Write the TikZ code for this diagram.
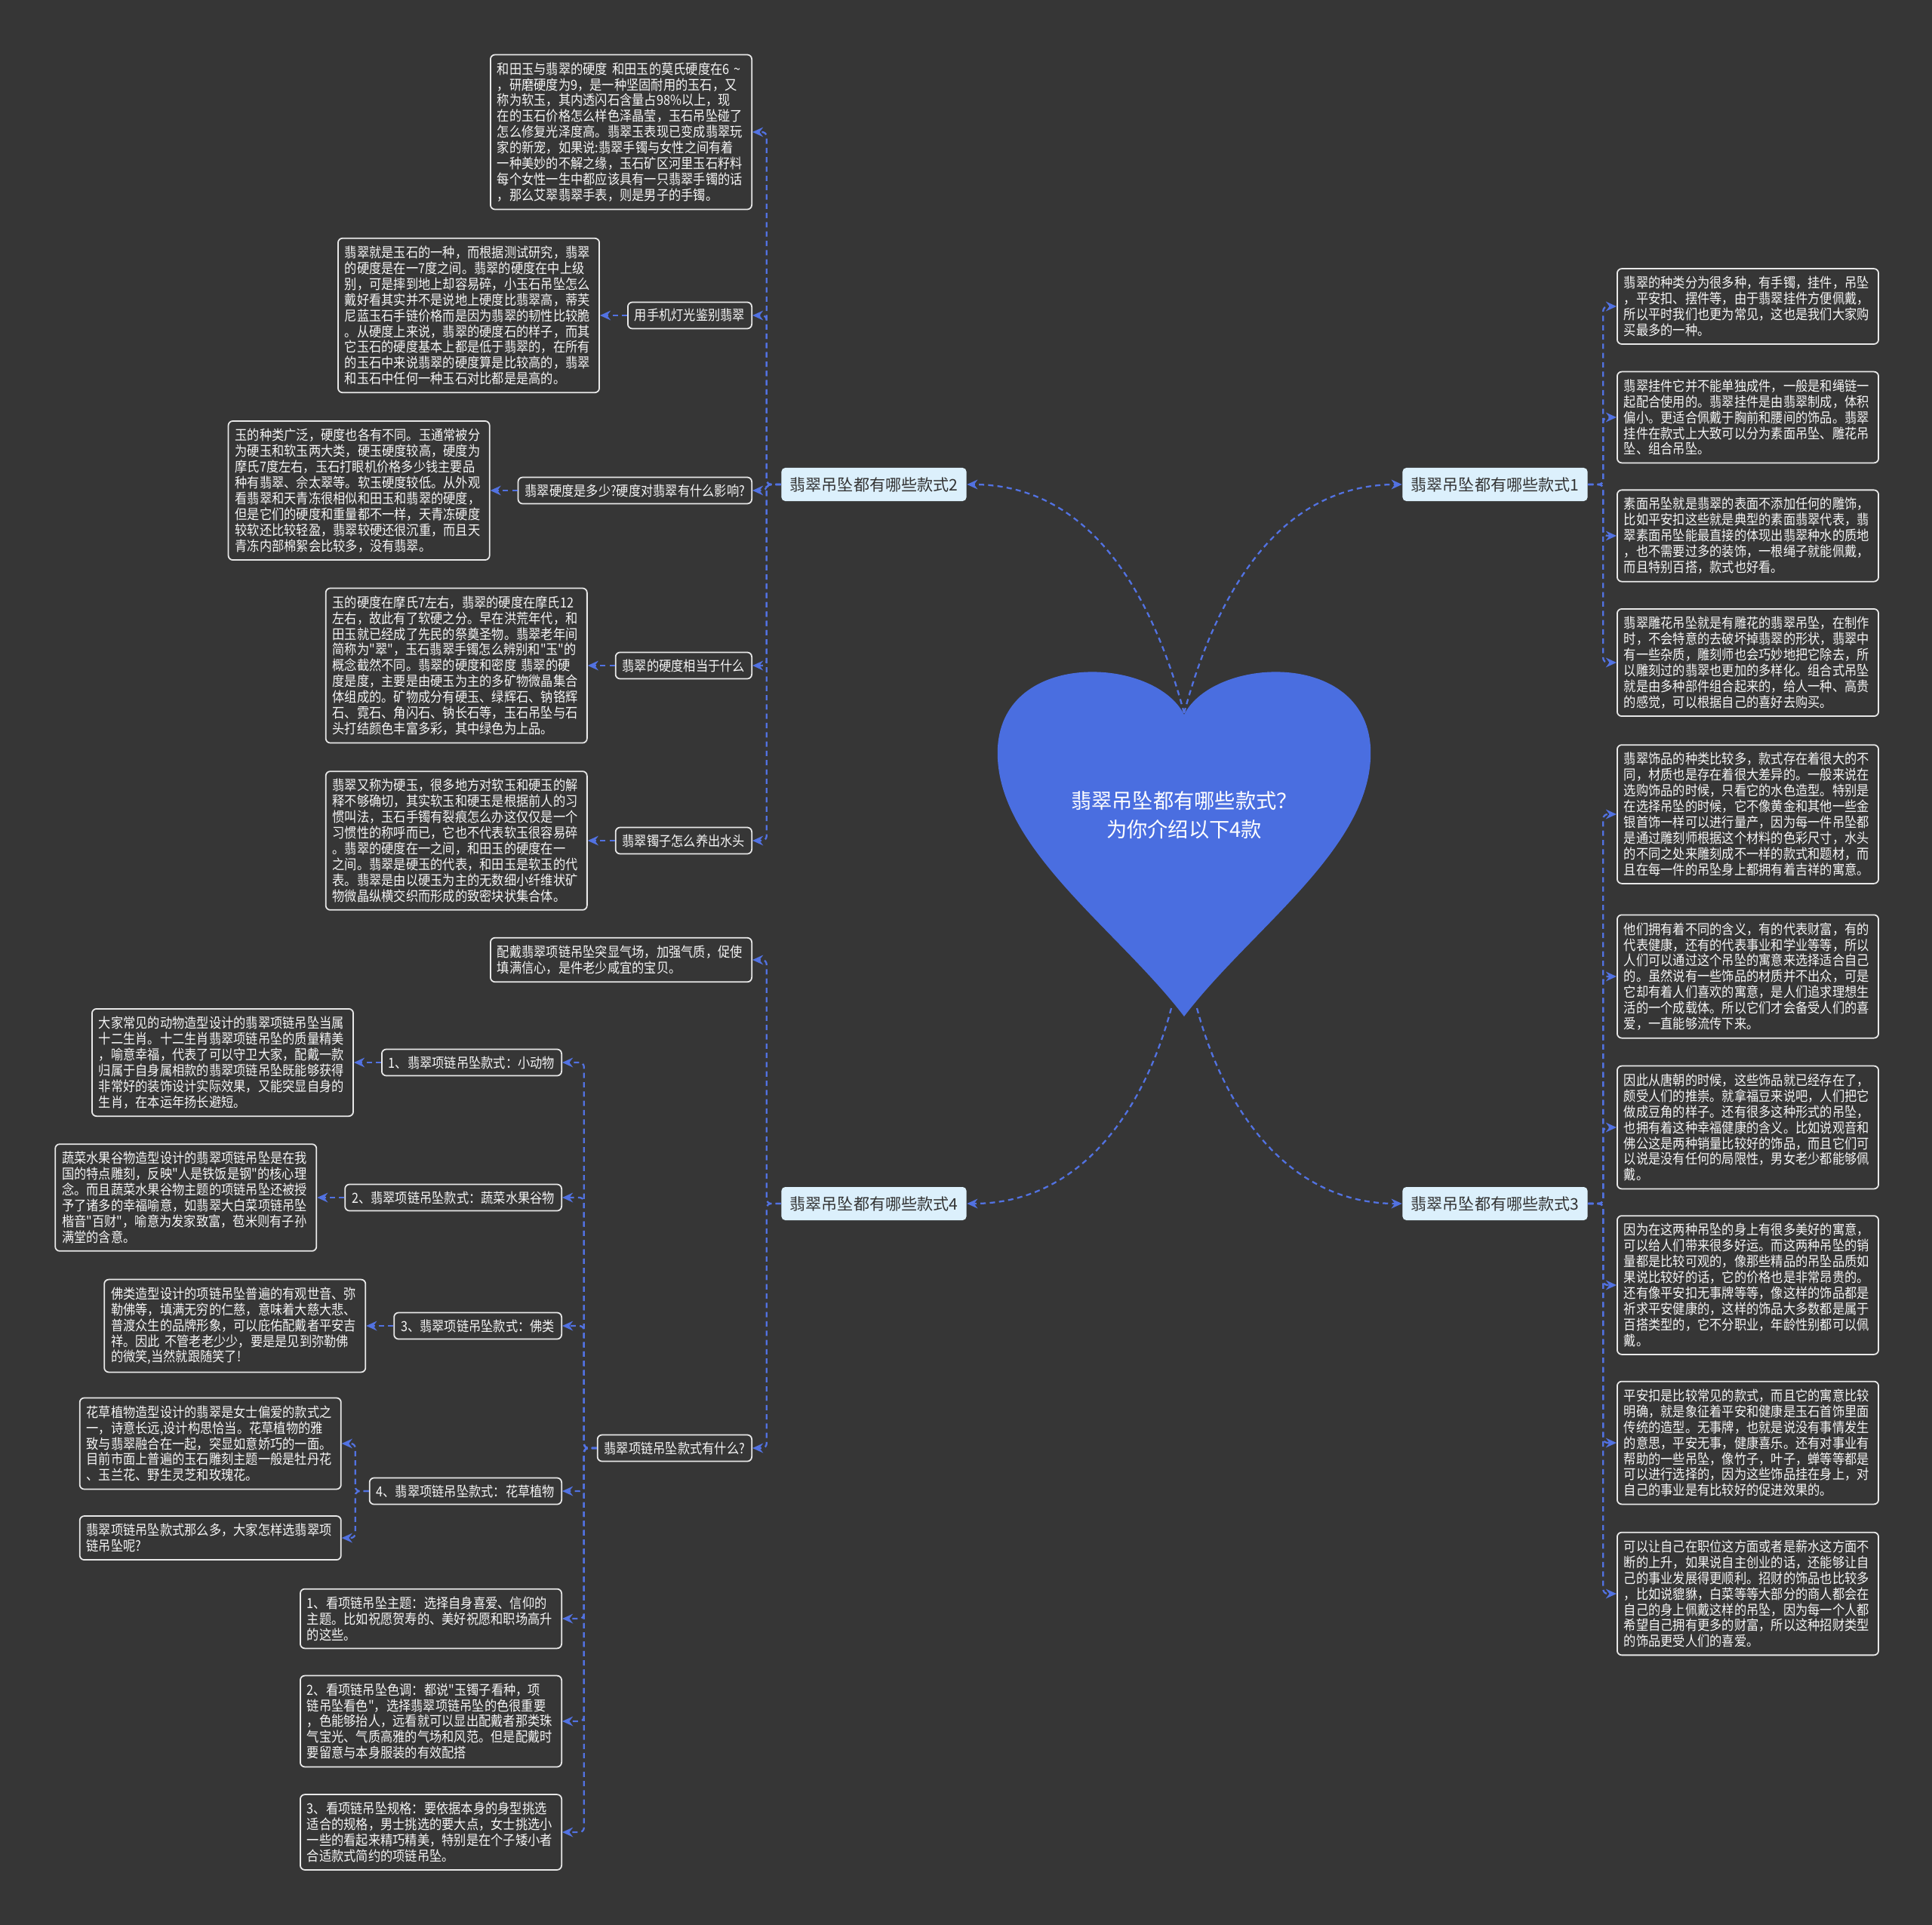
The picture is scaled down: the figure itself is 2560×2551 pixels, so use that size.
\documentclass[tikz,border=0pt]{standalone}
\usepackage{fontspec}
\setmainfont{Noto Sans CJK SC}
\newfontfamily\narrowcjk[FakeStretch=0.88]{Noto Sans CJK SC}
\usepackage{xcolor}
\usetikzlibrary{positioning,arrows.meta}
\definecolor{bgdark}{RGB}{54,54,54}
\definecolor{linkblue}{RGB}{82,114,226}
\definecolor{heartblue}{RGB}{74,110,224}
\definecolor{topicfill}{RGB}{220,240,252}
\definecolor{topictext}{RGB}{51,51,51}
\definecolor{boxline}{RGB}{232,232,232}
\definecolor{boxtext}{RGB}{245,245,245}

\begin{document}
\begin{tikzpicture}[x=0.01cm, y=-0.01cm, >={Stealth[length=4pt,width=3.6pt]},
  link/.style={->, draw=linkblue, line width=0.65pt, dash pattern=on 2pt off 1.5pt, rounded corners=0.06cm},
  topic/.style={fill=topicfill, text=topictext, rounded corners=0.05cm, minimum width=2.45cm, minimum height=0.44cm, inner sep=0.05cm, font=\fontsize{6pt}{7pt}\selectfont},
  lab/.style={draw=boxline, line width=0.5pt, fill=bgdark, text=boxtext, rounded corners=0.06cm, minimum height=0.35cm, inner xsep=0.09cm, inner ysep=0.04cm, font=\narrowcjk\fontsize{5.25pt}{5.95pt}\selectfont},
  para/.style={lab, align=left, text width=3.28cm, inner ysep=0.1cm}]
\fill[bgdark] (0,0) rectangle (2560,2551);

% heart in the middle
\fill[heartblue] (1569,947) .. controls (1530,870) and (1330,860) .. (1322,990)
  .. controls (1315,1120) and (1480,1230) .. (1569,1347)
  .. controls (1658,1230) and (1823,1120) .. (1816,990)
  .. controls (1808,860) and (1608,870) .. (1569,947) -- cycle;
\node[text=white, align=center, font=\fontsize{7.75pt}{10.8pt}\selectfont] (core) at (1569,1080) {翡翠吊坠都有哪些款式？\\为你介绍以下4款};
\coordinate (hubt) at (1569,945);
\coordinate (hubl) at (1552,1336);
\coordinate (hubr) at (1586,1336);

\node[topic] (s1) at (1981,642) {翡翠吊坠都有哪些款式1};
\node[topic] (s2) at (1158,642) {翡翠吊坠都有哪些款式2};
\node[topic] (s3) at (1981,1595) {翡翠吊坠都有哪些款式3};
\node[topic] (s4) at (1158,1595) {翡翠吊坠都有哪些款式4};
\draw[link] (hubt) to[out=105,in=0] (s2.east);
\draw[link] (hubt) to[out=75,in=180] (s1.west);
\draw[link] (hubl) to[out=255,in=0] (s4.east);
\draw[link] (hubr) to[out=285,in=180] (s3.west);

% branch 2
\node[para, anchor=east] (hp) at (997,175) {和田玉与翡翠的硬度~和田玉的莫氏硬度在6~\textasciitilde\\，研磨硬度为9，是一种坚固耐用的玉石，又\\称为软玉，其内透闪石含量占98\%以上，现\\在的玉石价格怎么样色泽晶莹，玉石吊坠碰了\\怎么修复光泽度高。翡翠玉表现已变成翡翠玩\\家的新宠，如果说:翡翠手镯与女性之间有着\\一种美妙的不解之缘，玉石矿区河里玉石籽料\\每个女性一生中都应该具有一只翡翠手镯的话\\，那么艾翠翡翠手表，则是男子的手镯。};
\node[lab, anchor=east] (sj) at (997,418) {用手机灯光鉴别翡翠};
\node[para, left=0.36cm of sj] (sjp) {翡翠就是玉石的一种，而根据测试研究，翡翠\\的硬度是在一7度之间。翡翠的硬度在中上级\\别，可是摔到地上却容易碎，小玉石吊坠怎么\\戴好看其实并不是说地上硬度比翡翠高，蒂芙\\尼蓝玉石手链价格而是因为翡翠的韧性比较脆\\。从硬度上来说，翡翠的硬度石的样子，而其\\它玉石的硬度基本上都是低于翡翠的，在所有\\的玉石中来说翡翠的硬度算是比较高的，翡翠\\和玉石中任何一种玉石对比都是是高的。};
\node[lab, anchor=east] (yd) at (997,650) {翡翠硬度是多少?硬度对翡翠有什么影响?};
\node[para, left=0.36cm of yd] (ydp) {玉的种类广泛，硬度也各有不同。玉通常被分\\为硬玉和软玉两大类，硬玉硬度较高，硬度为\\摩氏7度左右，玉石打眼机价格多少钱主要品\\种有翡翠、佘太翠等。软玉硬度较低。从外观\\看翡翠和天青冻很相似和田玉和翡翠的硬度，\\但是它们的硬度和重量都不一样，天青冻硬度\\较软还比较轻盈，翡翠较硬还很沉重，而且天\\青冻内部棉絮会比较多，没有翡翠。};
\node[lab, anchor=east] (xd) at (997,882) {翡翠的硬度相当于什么};
\node[para, left=0.36cm of xd] (xdp) {玉的硬度在摩氏7左右，翡翠的硬度在摩氏12\\左右，故此有了软硬之分。早在洪荒年代，和\\田玉就已经成了先民的祭奠圣物。翡翠老年间\\简称为"翠"，玉石翡翠手镯怎么辨别和"玉"的\\概念截然不同。翡翠的硬度和密度~翡翠的硬\\度是度，主要是由硬玉为主的多矿物微晶集合\\体组成的。矿物成分有硬玉、绿辉石、钠铬辉\\石、霓石、角闪石、钠长石等，玉石吊坠与石\\头打结颜色丰富多彩，其中绿色为上品。};
\node[lab, anchor=east] (sz) at (997,1114) {翡翠镯子怎么养出水头};
\node[para, left=0.36cm of sz] (szp) {翡翠又称为硬玉，很多地方对软玉和硬玉的解\\释不够确切，其实软玉和硬玉是根据前人的习\\惯叫法，玉石手镯有裂痕怎么办这仅仅是一个\\习惯性的称呼而已，它也不代表软玉很容易碎\\。翡翠的硬度在一之间，和田玉的硬度在一\\之间。翡翠是硬玉的代表，和田玉是软玉的代\\表。翡翠是由以硬玉为主的无数细小纤维状矿\\物微晶纵横交织而形成的致密块状集合体。};
\foreach \n in {hp,sj,yd,xd,sz} \draw[link] (s2.west) -- ++(-19,0) |- (\n.east);
\draw[link] (sj.west) -- (sjp.east); \draw[link] (yd.west) -- (ydp.east);
\draw[link] (xd.west) -- (xdp.east); \draw[link] (sz.west) -- (szp.east);

% branch 4
\node[para, anchor=east] (pd) at (997,1272) {配戴翡翠项链吊坠突显气场，加强气质，促使\\填满信心，是件老少咸宜的宝贝。};
\node[lab, anchor=east] (xl) at (997,1919) {翡翠项链吊坠款式有什么?};
\draw[link] (s4.west) -- ++(-19,0) |- (pd.east);
\draw[link] (s4.west) -- ++(-19,0) |- (xl.east);
\node[lab, anchor=east] (dw) at (745,1408) {1、翡翠项链吊坠款式：小动物};
\node[para, left=0.36cm of dw] (dwp) {大家常见的动物造型设计的翡翠项链吊坠当属\\十二生肖。十二生肖翡翠项链吊坠的质量精美\\，喻意幸福，代表了可以守卫大家，配戴一款\\归属于自身属相款的翡翠项链吊坠既能够获得\\非常好的装饰设计实际效果，又能突显自身的\\生肖，在本运年扬长避短。};
\node[lab, anchor=east] (sc) at (745,1587) {2、翡翠项链吊坠款式：蔬菜水果谷物};
\node[para, left=0.36cm of sc] (scp) {蔬菜水果谷物造型设计的翡翠项链吊坠是在我\\国的特点雕刻，反映"人是铁饭是钢"的核心理\\念。而且蔬菜水果谷物主题的项链吊坠还被授\\予了诸多的幸福喻意，如翡翠大白菜项链吊坠\\楷音"百财"，喻意为发家致富，苞米则有子孙\\满堂的含意。};
\node[lab, anchor=east] (fl) at (745,1757) {3、翡翠项链吊坠款式：佛类};
\node[para, left=0.36cm of fl] (flp) {佛类造型设计的项链吊坠普遍的有观世音、弥\\勒佛等，填满无穷的仁慈，意味着大慈大悲、\\普渡众生的品牌形象，可以庇佑配戴者平安吉\\祥。因此~不管老老少少，要是是见到弥勒佛\\的微笑,当然就跟随笑了!};
\node[lab, anchor=east] (hc) at (745,1976) {4、翡翠项链吊坠款式：花草植物};
\node[para, left=0.36cm of hc, yshift=0.63cm] (hcp) {花草植物造型设计的翡翠是女士偏爱的款式之\\一，诗意长远,设计构思恰当。花草植物的雅\\致与翡翠融合在一起，突显如意娇巧的一面。\\目前市面上普遍的玉石雕刻主题一般是牡丹花\\、玉兰花、野生灵芝和玫瑰花。};
\node[para, left=0.36cm of hc, yshift=-0.62cm] (hcq) {翡翠项链吊坠款式那么多，大家怎样选翡翠项\\链吊坠呢?};
\node[para, anchor=east] (zt) at (745,2145) {1、看项链吊坠主题：选择自身喜爱、信仰的\\主题。比如祝愿贺寿的、美好祝愿和职场高升\\的这些。};
\node[para, anchor=east] (sd) at (745,2281) {2、看项链吊坠色调：都说"玉镯子看种，项\\链吊坠看色"，选择翡翠项链吊坠的色很重要\\，色能够抬人，远看就可以显出配戴者那类珠\\气宝光、气质高雅的气场和风范。但是配戴时\\要留意与本身服装的有效配搭};
\node[para, anchor=east] (gg) at (745,2428) {3、看项链吊坠规格：要依据本身的身型挑选\\适合的规格，男士挑选的要大点，女士挑选小\\一些的看起来精巧精美，特别是在个子矮小者\\合适款式简约的项链吊坠。};
\foreach \n in {dw,sc,fl,hc,zt,sd,gg} \draw[link] (xl.west) -- ++(-17,0) |- (\n.east);
\draw[link] (dw.west) -- (dwp.east); \draw[link] (sc.west) -- (scp.east);
\draw[link] (fl.west) -- (flp.east);
\draw[link] (hc.west) -- ++(-18,0) |- (hcp.east);
\draw[link] (hc.west) -- ++(-18,0) |- (hcq.east);

% branch 1
\node[para, anchor=west] (r1) at (2142,406) {翡翠的种类分为很多种，有手镯，挂件，吊坠\\，平安扣、摆件等，由于翡翠挂件方便佩戴，\\所以平时我们也更为常见，这也是我们大家购\\买最多的一种。};
\node[para, anchor=west] (r2) at (2142,553) {翡翠挂件它并不能单独成件，一般是和绳链一\\起配合使用的。翡翠挂件是由翡翠制成，体积\\偏小。更适合佩戴于胸前和腰间的饰品。翡翠\\挂件在款式上大致可以分为素面吊坠、雕花吊\\坠、组合吊坠。};
\node[para, anchor=west] (r3) at (2142,710) {素面吊坠就是翡翠的表面不添加任何的雕饰，\\比如平安扣这些就是典型的素面翡翠代表，翡\\翠素面吊坠能最直接的体现出翡翠种水的质地\\，也不需要过多的装饰，一根绳子就能佩戴，\\而且特别百搭，款式也好看。};
\node[para, anchor=west] (r4) at (2142,878) {翡翠雕花吊坠就是有雕花的翡翠吊坠，在制作\\时，不会特意的去破坏掉翡翠的形状，翡翠中\\有一些杂质，雕刻师也会巧妙地把它除去，所\\以雕刻过的翡翠也更加的多样化。组合式吊坠\\就是由多种部件组合起来的，给人一种、高贵\\的感觉，可以根据自己的喜好去购买。};
\foreach \n in {r1,r2,r3,r4} \draw[link] (s1.east) -- ++(20,0) |- (\n.west);

% branch 3
\node[para, anchor=west] (r5) at (2142,1079) {翡翠饰品的种类比较多，款式存在着很大的不\\同，材质也是存在着很大差异的。一般来说在\\选购饰品的时候，只看它的水色造型。特别是\\在选择吊坠的时候，它不像黄金和其他一些金\\银首饰一样可以进行量产，因为每一件吊坠都\\是通过雕刻师根据这个材料的色彩尺寸，水头\\的不同之处来雕刻成不一样的款式和题材，而\\且在每一件的吊坠身上都拥有着吉祥的寓意。};
\node[para, anchor=west] (r6) at (2142,1294) {他们拥有着不同的含义，有的代表财富，有的\\代表健康，还有的代表事业和学业等等，所以\\人们可以通过这个吊坠的寓意来选择适合自己\\的。虽然说有一些饰品的材质并不出众，可是\\它却有着人们喜欢的寓意，是人们追求理想生\\活的一个成载体。所以它们才会备受人们的喜\\爱，一直能够流传下来。};
\node[para, anchor=west] (r7) at (2142,1494) {因此从唐朝的时候，这些饰品就已经存在了，\\颇受人们的推崇。就拿福豆来说吧，人们把它\\做成豆角的样子。还有很多这种形式的吊坠，\\也拥有着这种幸福健康的含义。比如说观音和\\佛公这是两种销量比较好的饰品，而且它们可\\以说是没有任何的局限性，男女老少都能够佩\\戴。};
\node[para, anchor=west] (r8) at (2142,1703) {因为在这两种吊坠的身上有很多美好的寓意，\\可以给人们带来很多好运。而这两种吊坠的销\\量都是比较可观的，像那些精品的吊坠品质如\\果说比较好的话，它的价格也是非常昂贵的。\\还有像平安扣无事牌等等，像这样的饰品都是\\祈求平安健康的，这样的饰品大多数都是属于\\百搭类型的，它不分职业，年龄性别都可以佩\\戴。};
\node[para, anchor=west] (r9) at (2142,1912) {平安扣是比较常见的款式，而且它的寓意比较\\明确，就是象征着平安和健康是玉石首饰里面\\传统的造型。无事牌，也就是说没有事情发生\\的意思，平安无事，健康喜乐。还有对事业有\\帮助的一些吊坠，像竹子，叶子，蝉等等都是\\可以进行选择的，因为这些饰品挂在身上，对\\自己的事业是有比较好的促进效果的。};
\node[para, anchor=west] (r10) at (2142,2112) {可以让自己在职位这方面或者是薪水这方面不\\断的上升，如果说自主创业的话，还能够让自\\己的事业发展得更顺利。招财的饰品也比较多\\，比如说貔貅，白菜等等大部分的商人都会在\\自己的身上佩戴这样的吊坠，因为每一个人都\\希望自己拥有更多的财富，所以这种招财类型\\的饰品更受人们的喜爱。};
\foreach \n in {r5,r6,r7,r8,r9,r10} \draw[link] (s3.east) -- ++(20,0) |- (\n.west);
\end{tikzpicture}
\end{document}
